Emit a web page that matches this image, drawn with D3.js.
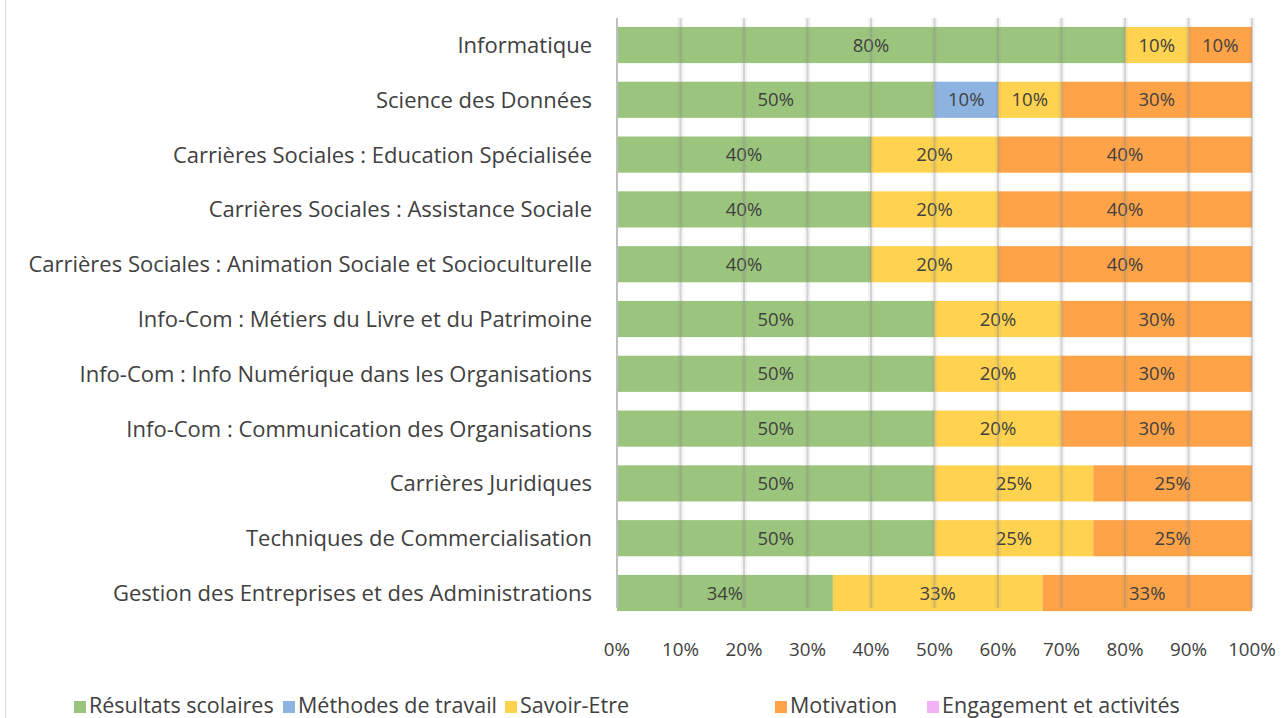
<!DOCTYPE html>
<html>
<head>
<meta charset="utf-8">
<script src="https://cdn.jsdelivr.net/npm/d3@7"></script>
<style>
  body { margin: 0; background: #fff; }
  svg { display: block; font-family: "Open Sans", Lato, sans-serif; }
</style>
</head>
<body>
<svg id="chart"></svg>
<script>
const categories = [
    "Informatique",
    "Science des Données",
    "Carrières Sociales : Education Spécialisée",
    "Carrières Sociales : Assistance Sociale",
    "Carrières Sociales : Animation Sociale et Socioculturelle",
    "Info-Com : Métiers du Livre et du Patrimoine",
    "Info-Com : Info Numérique dans les Organisations",
    "Info-Com : Communication des Organisations",
    "Carrières Juridiques",
    "Techniques de Commercialisation",
    "Gestion des Entreprises et des Administrations"
];
const seriesNames = ["Résultats scolaires", "Méthodes de travail", "Savoir-Etre", "Motivation", "Engagement et activités"];
const resultats  = [0.80, 0.50, 0.40, 0.40, 0.40, 0.50, 0.50, 0.50, 0.50, 0.50, 0.34];
const methodes   = [0.00, 0.10, 0.00, 0.00, 0.00, 0.00, 0.00, 0.00, 0.00, 0.00, 0.00];
const savoirEtre = [0.10, 0.10, 0.20, 0.20, 0.20, 0.20, 0.20, 0.20, 0.25, 0.25, 0.33];
const motivation = [0.10, 0.30, 0.40, 0.40, 0.40, 0.30, 0.30, 0.30, 0.25, 0.25, 0.33];
const engagement = [0, 0, 0, 0, 0, 0, 0, 0, 0, 0, 0];
const tickValues = [0, 0.1, 0.2, 0.3, 0.4, 0.5, 0.6, 0.7, 0.8, 0.9, 1.0];

(function () {
    const width = 1281;
    const height = 718;
    const colors = ["#9bc57c", "#8db4e1", "#ffd34f", "#ffa349", "#f2b2f4"];
    const textColor = "#404040";

    const svg = d3.select("#chart")
        .attr("width", width)
        .attr("height", height);

    // outer frame edge on the left
    svg.append("line")
        .attr("x1", 5.5).attr("x2", 5.5)
        .attr("y1", 0).attr("y2", height)
        .attr("stroke", "#d9d9d9");

    const x = d3.scaleLinear().domain([0, 1]).range([617, 1252]);
    const y = d3.scaleBand()
        .domain(categories)
        .range([17.6, 620.4])
        .paddingInner(0.34)
        .paddingOuter(0.17);

    // build stack rows
    const allSeries = [resultats, methodes, savoirEtre, motivation, engagement];
    const rows = categories.map((c, i) => {
        const r = { cat: c };
        seriesNames.forEach((s, j) => r[s] = allSeries[j][i]);
        return r;
    });
    const stacked = d3.stack().keys(seriesNames)(rows);

    const layers = svg.append("g").selectAll("g")
        .data(stacked)
        .join("g")
        .attr("fill", (d, i) => colors[i]);

    layers.selectAll("rect")
        .data(d => d.filter(p => p[1] - p[0] > 0))
        .join("rect")
        .attr("x", d => x(d[0]))
        .attr("y", d => y(d.data.cat))
        .attr("width", d => x(d[1]) - x(d[0]))
        .attr("height", y.bandwidth());

    // gridlines (drawn on top of bars, like the original)
    const grid = svg.append("g");
    const gridTop = 18, gridBottom = 608;
    grid.selectAll(".glow")
        .data(tickValues.slice(1))
        .join("line")
        .attr("x1", d => x(d)).attr("x2", d => x(d))
        .attr("y1", gridTop).attr("y2", gridBottom)
        .attr("stroke", "#8c8c8c")
        .attr("stroke-opacity", 0.1)
        .attr("stroke-width", 6);
    grid.selectAll(".gl")
        .data(tickValues.slice(1))
        .join("line")
        .attr("x1", d => x(d)).attr("x2", d => x(d))
        .attr("y1", gridTop).attr("y2", gridBottom)
        .attr("stroke", "#8c8c8c")
        .attr("stroke-opacity", 0.3)
        .attr("stroke-width", 2);
    // zero axis line
    svg.append("line")
        .attr("x1", x(0)).attr("x2", x(0))
        .attr("y1", gridTop).attr("y2", gridBottom)
        .attr("stroke", "#bfbfbf")
        .attr("stroke-width", 2);

    // value labels
    layers.selectAll("text")
        .data(d => d.filter(p => p[1] - p[0] > 0))
        .join("text")
        .attr("x", d => (x(d[0]) + x(d[1])) / 2)
        .attr("y", d => y(d.data.cat) + y.bandwidth() / 2)
        .attr("dy", "0.36em")
        .attr("text-anchor", "middle")
        .attr("fill", textColor)
        .attr("font-size", 18.5)
        .text(d => Math.round((d[1] - d[0]) * 100) + "%");

    // category labels
    svg.append("g").selectAll("text")
        .data(categories)
        .join("text")
        .attr("x", 592)
        .attr("y", d => y(d) + y.bandwidth() / 2)
        .attr("dy", "0.36em")
        .attr("text-anchor", "end")
        .attr("fill", textColor)
        .attr("font-size", 22)
        .text(d => d);

    // x tick labels
    svg.append("g").selectAll("text")
        .data(tickValues)
        .join("text")
        .attr("x", d => x(d))
        .attr("y", 649)
        .attr("dy", "0.36em")
        .attr("text-anchor", "middle")
        .attr("fill", textColor)
        .attr("font-size", 18.8)
        .text(d3.format(".0%"));

    // legend
    const legendX = [74, 283, 505, 775, 927];
    const legend = svg.append("g").selectAll("g")
        .data(seriesNames)
        .join("g")
        .attr("transform", (d, i) => `translate(${legendX[i]},0)`);
    legend.append("rect")
        .attr("x", 0).attr("y", 701)
        .attr("width", 12).attr("height", 12)
        .attr("fill", (d, i) => colors[i]);
    legend.append("text")
        .attr("x", 15).attr("y", 713)
        .attr("fill", textColor)
        .attr("font-size", 21.5)
        .text(d => d);
})();
</script>
</body>
</html>
